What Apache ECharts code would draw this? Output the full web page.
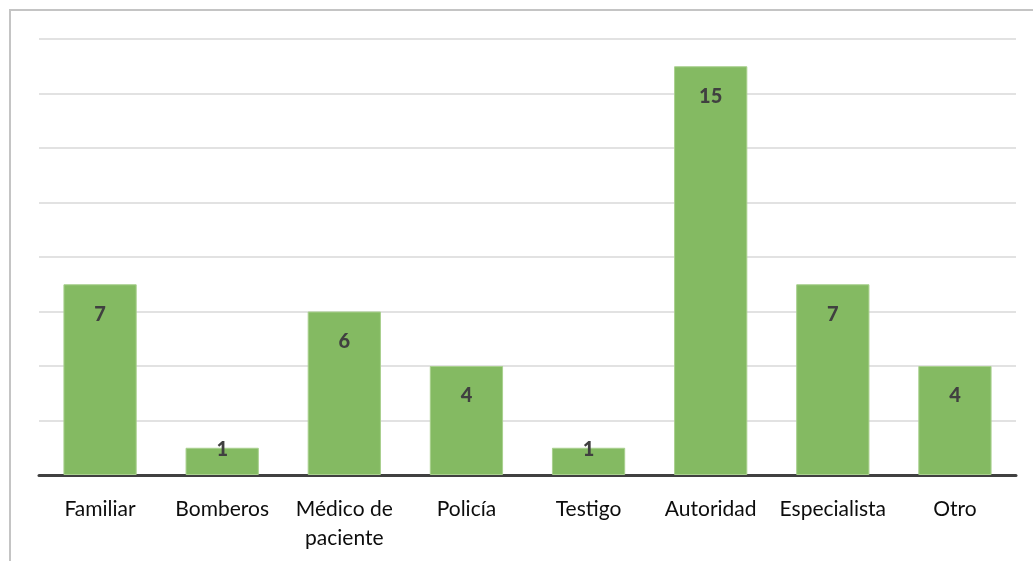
<!DOCTYPE html>
<html>
<head>
<meta charset="utf-8">
<script src="https://cdn.jsdelivr.net/npm/echarts@6/dist/echarts.min.js"></script>
<style>
  html, body { margin: 0; padding: 0; background: #fff; }
  #chart { width: 1033px; height: 561px; }
</style>
</head>
<body>
<div id="chart"></div>
<script>
// categorias y valores
var categories = ['Familiar', 'Bomberos', 'Médico de\npaciente', 'Policía', 'Testigo', 'Autoridad', 'Especialista', 'Otro'];
var values = [7, 1, 6, 4, 1, 15, 7, 4];
var yMax = 16;
var yStep = 2;

var chart = echarts.init(document.getElementById('chart'));

chart.setOption({
    animation: false,
    graphic: [{
        type: 'rect',
        shape: { x: 10, y: 10, width: 1040, height: 570 },
        style: { fill: 'none', stroke: '#c4c4c4', lineWidth: 2 },
        z: -10
    }],
    grid: { left: 39, right: 17, top: 39, bottom: 86 },
    xAxis: {
        type: 'category',
        data: categories,
        axisTick: { show: false },
        axisLine: { lineStyle: { color: '#404040', width: 3 } },
        axisLabel: {
            color: '#0d0d0d',
            fontFamily: 'Lato',
            fontSize: 21,
            lineHeight: 29,
            margin: 20,
            interval: 0
        }
    },
    yAxis: {
        type: 'value',
        min: 0,
        max: yMax,
        interval: yStep,
        axisLabel: { show: false },
        axisLine: { show: false },
        axisTick: { show: false },
        splitLine: { lineStyle: { color: '#d9d9d9', width: 1.5 } }
    },
    series: [{
        type: 'bar',
        barWidth: '60%',
        data: values.map(function (v) {
            return {
                value: v,
                label: v < 2 ? { distance: -8 } : {}
            };
        }),
        itemStyle: {
            color: '#84ba62',
            borderColor: '#a9d08e',
            borderWidth: 1
        },
        label: {
            show: true,
            position: 'insideTop',
            distance: 20,
            color: '#404040',
            fontFamily: 'Lato',
            fontWeight: 900,
            fontSize: 20
        }
    }]
});
</script>
</body>
</html>
